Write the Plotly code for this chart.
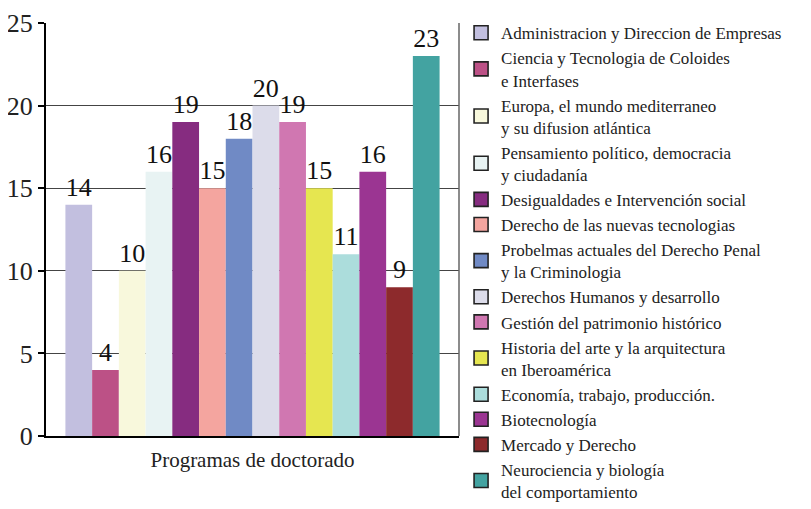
import plotly.graph_objects as go

categoria = "Programas de doctorado"

programas = [
    "Administracion y Direccion de Empresas",
    "Ciencia y Tecnologia de Coloides<br>e Interfases",
    "Europa, el mundo mediterraneo<br>y su difusion atlántica",
    "Pensamiento político, democracia<br>y ciudadanía",
    "Desigualdades e Intervención social",
    "Derecho de las nuevas tecnologias",
    "Probelmas actuales del Derecho Penal<br>y la Criminologia",
    "Derechos Humanos y desarrollo",
    "Gestión del patrimonio histórico",
    "Historia del arte y la arquitectura<br>en Iberoamérica",
    "Economía, trabajo, producción.",
    "Biotecnología",
    "Mercado y Derecho",
    "Neurociencia y biología<br>del comportamiento",
]

alumnos = [14, 4, 10, 16, 19, 15, 18, 20, 19, 15, 11, 16, 9, 23]

colores = [
    "#c2bfdf", "#bc5186", "#f8f8dc", "#e8f3f3", "#862c80", "#f4a59f", "#708ac5",
    "#dcdcea", "#d077b1", "#e6e650", "#acdddc", "#9b3592", "#8d2a2c", "#43a3a1",
]

serif = "Liberation Serif, Times New Roman, serif"

fig = go.Figure()

for i, (nombre, valor, color) in enumerate(zip(programas, alumnos, colores)):
    # bar itself, no legend entry (legend swatches need a black border)
    fig.add_trace(go.Bar(
        x=[categoria], y=[valor], name=nombre,
        marker=dict(color=color, line=dict(width=0)),
        text=[valor], textposition="outside", cliponaxis=False,
        textfont=dict(family=serif, size=26, color="#111111"),
        showlegend=False, hoverinfo="y",
    ))
    # legend swatch
    fig.add_trace(go.Scatter(
        x=[None], y=[None], mode="markers", name=nombre,
        marker=dict(symbol="square", size=14, color=color,
                    line=dict(color="#222222", width=1.6)),
    ))

# the page body has an 8px margin, so the figure is a bit smaller than the window
fig.update_layout(
    width=803, height=509,
    margin=dict(l=38, r=352, t=15, b=81, autoexpand=False),
    plot_bgcolor="white", paper_bgcolor="white",
    barmode="group", bargap=0.094, bargroupgap=0,
    font=dict(family=serif, color="black"),
    showlegend=True,
    legend=dict(
        x=1.005, y=1.019, xanchor="left", yanchor="top",
        font=dict(family=serif, size=17, color="#222222"),
        tracegroupgap=0,
        maxheight=509,
        bgcolor="rgba(0,0,0,0)",
    ),
    xaxis=dict(
        automargin=False,
        showline=True, linecolor="black", linewidth=2,
        tickfont=dict(family=serif, size=21, color="#222222"),
        ticks="", ticklabelstandoff=4,
    ),
    yaxis=dict(
        automargin=False,
        range=[0, 25], dtick=5,
        showline=True, linecolor="black", linewidth=2,
        ticks="outside", ticklen=6, tickwidth=1.5, tickcolor="black",
        showgrid=True, gridcolor="#444444", gridwidth=1,
        tickfont=dict(family=serif, size=26, color="#222222"),
        zeroline=False,
    ),
    shapes=[dict(type="line", xref="paper", yref="paper", x0=1, x1=1, y0=0, y1=1,
                 line=dict(color="#666666", width=1.5))],
)

fig.write_html("out.html")
